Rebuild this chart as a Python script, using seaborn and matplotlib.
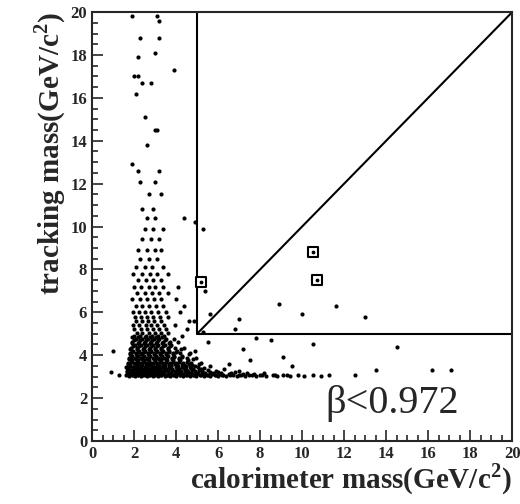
import numpy as np
import pandas as pd
import seaborn as sns
import matplotlib.pyplot as plt
from matplotlib.ticker import MultipleLocator

# scatter, row by row: tracking mass -> calorimeter masses
rows = {
    3.02: [1.75, 2.05, 2.32, 2.61, 2.88, 3.14, 3.47, 3.71, 4.02, 4.33, 4.68, 4.95, 5.31, 5.62, 6.0, 6.4, 6.9, 7.3, 7.8, 8.3, 8.8, 9.4, 10.1, 10.9],
    3.06: [1.9, 2.2, 2.5, 2.78, 3.02, 3.3, 3.6, 3.9, 4.2, 4.5, 4.85, 5.2, 5.5, 5.9, 6.25, 6.7, 7.1, 7.6, 8.1, 8.6, 9.1, 9.8, 10.5, 11.3],
    3.10: [1.62, 1.93, 2.18, 2.44, 2.73, 2.97, 3.26, 3.58, 3.85, 4.17, 4.49, 4.81, 5.12, 5.45, 5.83, 6.2, 6.55, 7.0, 7.45, 8.0, 8.7, 9.3],
    3.14: [1.7, 2.0, 2.3, 2.56, 2.84, 3.1, 3.4, 3.7, 4.0, 4.3, 4.62, 4.95, 5.3, 5.7, 6.1, 6.5, 7.2, 7.7],
    3.18: [1.81, 2.09, 2.37, 2.66, 2.91, 3.19, 3.44, 3.77, 4.08, 4.41, 4.72, 5.04, 5.39, 5.77, 6.15, 6.6, 7.4, 8.2],
    3.22: [1.66, 1.96, 2.24, 2.5, 2.76, 3.03, 3.32, 3.62, 3.93, 4.24, 4.55, 4.88, 5.22, 5.6, 6.0, 6.8],
    3.27: [1.68, 1.99, 2.26, 2.55, 2.83, 3.08, 3.36, 3.63, 3.94, 4.25, 4.57, 4.9, 5.24, 5.9, 7.0],
    3.31: [1.85, 2.13, 2.4, 2.68, 2.94, 3.21, 3.5, 3.8, 4.1, 4.42, 4.75, 5.1, 5.5],
    3.36: [1.77, 2.12, 2.41, 2.69, 2.95, 3.22, 3.51, 3.82, 4.13, 4.46, 4.79, 5.18, 6.3],
    3.40: [1.65, 1.98, 2.28, 2.57, 2.86, 3.12, 3.41, 3.72, 4.04, 4.36, 4.7, 5.35],
    3.45: [1.64, 1.95, 2.23, 2.52, 2.79, 3.05, 3.33, 3.66, 3.98, 4.3, 4.64, 5.05],
    3.50: [1.8, 2.1, 2.35, 2.62, 2.9, 3.18, 3.48, 3.78, 4.1, 4.45, 4.9, 5.6],
    3.55: [1.83, 2.14, 2.38, 2.64, 2.92, 3.17, 3.46, 3.74, 4.06, 4.39, 4.75],
    3.60: [1.72, 2.04, 2.3, 2.56, 2.82, 3.08, 3.37, 3.65, 3.96, 4.28, 4.6, 5.1],
    3.65: [1.7, 2.02, 2.29, 2.58, 2.86, 3.11, 3.39, 3.69, 4.0, 4.34, 4.7, 5.2],
    3.70: [1.84, 2.15, 2.42, 2.7, 2.98, 3.25, 3.53, 3.84, 4.16, 4.5],
    3.76: [1.88, 2.17, 2.46, 2.72, 3.01, 3.28, 3.55, 3.87, 4.21, 4.58],
    3.82: [1.78, 2.08, 2.36, 2.63, 2.93, 3.2, 3.5, 3.8, 4.14, 4.8],
    3.87: [1.74, 2.06, 2.33, 2.62, 2.9, 3.16, 3.43, 3.79, 4.12, 4.5, 4.95],
    3.92: [1.86, 2.14, 2.43, 2.71, 2.99, 3.27, 3.57, 3.9, 4.3],
    3.98: [1.91, 2.2, 2.49, 2.77, 3.04, 3.31, 3.6, 3.92, 4.27],
    4.04: [1.79, 2.07, 2.35, 2.64, 2.94, 3.22, 3.5, 3.85, 4.6],
    4.10: [1.8, 2.1, 2.39, 2.68, 2.96, 3.24, 3.52, 3.84, 4.19, 4.65],
    4.16: [1.9, 2.2, 2.48, 2.78, 3.06, 3.35, 3.66, 4.0],
    4.22: [1.95, 2.25, 2.54, 2.83, 3.09, 3.37, 3.68, 4.03],
    4.28: [1.82, 2.12, 2.42, 2.7, 2.99, 3.28, 3.6, 4.25],
    4.35: [1.86, 2.16, 2.45, 2.74, 3.02, 3.3, 3.62, 3.97, 4.4],
    4.42: [1.94, 2.24, 2.53, 2.82, 3.1, 3.4, 3.73],
    4.48: [2.03, 2.31, 2.6, 2.88, 3.15, 3.45, 3.78],
    4.55: [1.88, 2.18, 2.47, 2.76, 3.04, 3.33, 3.65],
    4.62: [1.92, 2.22, 2.51, 2.8, 3.07, 3.38, 3.71, 4.1],
    4.69: [2.0, 2.29, 2.58, 2.86, 3.14, 3.46],
    4.76: [2.08, 2.36, 2.65, 2.93, 3.2, 3.53, 3.9],
    4.83: [1.9, 2.2, 2.5, 2.78, 3.06, 3.35],
    4.90: [1.98, 2.27, 2.57, 2.85, 3.12, 3.44, 4.3],
    5.05: [2.12, 2.4, 2.7, 2.98, 3.26, 3.6],
    5.2: [2.02, 2.33, 2.61, 2.9, 3.19, 3.5, 4.5],
    5.4: [1.97, 2.25, 2.55, 2.82, 3.1, 3.42, 3.95],
    5.6: [2.1, 2.4, 2.68, 2.97, 3.3, 4.6, 4.85],
    5.8: [2.05, 2.32, 2.6, 2.9, 3.25, 3.6],
    6.0: [1.95, 2.22, 2.5, 2.8, 3.15, 3.5, 4.2],
    6.3: [2.1, 2.4, 2.7, 3.05, 3.4, 4.4],
    6.6: [1.9, 2.3, 2.6, 2.95, 3.3, 4.0],
    6.9: [2.15, 2.5, 2.85, 3.2, 3.6],
    7.2: [2.0, 2.35, 2.7, 3.0, 3.4, 4.1],
    7.5: [2.2, 2.55, 2.9, 3.3],
    7.8: [1.95, 2.4, 2.75, 3.1, 3.6],
    8.1: [2.1, 2.5, 2.85, 3.4],
    8.5: [2.3, 2.7, 3.1],
    8.9: [2.2, 2.6, 3.0, 3.3],
    9.4: [2.4, 2.8, 3.2],
    9.9: [2.5, 2.9, 3.4],
    10.4: [2.6, 3.0, 4.4],
    10.8: [2.4, 2.9],
    11.5: [2.7, 3.3],
    12.1: [2.3, 3.0],
    12.6: [2.2, 3.2],
    12.9: [1.9],
    13.8: [2.6],
    14.5: [3.0, 3.1],
    15.1: [2.5],
    16.2: [2.1],
    16.7: [2.4, 2.8],
    17.0: [2.0, 2.2],
    17.3: [3.9],
    17.9: [2.2],
    18.1: [3.0],
    18.8: [2.3, 3.2],
    19.6: [3.2],
    19.8: [1.9, 3.1],
}
# isolated points
extra_x = [1.0, 0.9, 1.3, 6.8, 7.8, 8.5, 10.5, 14.5, 17.1, 9.1, 7.2, 5.5, 5.3, 4.9, 13.5, 12.5, 16.2,
           5.6, 7.0, 8.9, 10.0, 11.6, 13.0, 4.9, 5.3, 5.4, 6.5, 7.5, 9.5]
extra_y = [4.2, 3.2, 3.1, 5.2, 4.8, 4.7, 4.5, 4.4, 3.3, 3.9, 4.3, 4.6, 5.1, 4.2, 3.3, 3.1, 3.3,
           5.9, 5.7, 6.4, 5.9, 6.3, 5.8, 10.2, 9.9, 7.0, 3.6, 3.8, 3.5]
# boxed candidates
cand_x = [5.2, 10.5, 10.7]
cand_y = [7.4, 8.8, 7.5]

xs, ys = [], []
for y, xl in rows.items():
    xs += xl
    ys += [y] * len(xl)
df = pd.DataFrame({'calo': xs + extra_x, 'track': ys + extra_y})

sns.set_style('ticks')
plt.rcParams['font.family'] = ['Liberation Serif', 'DejaVu Serif']
plt.rcParams['mathtext.fontset'] = 'custom'
plt.rcParams['mathtext.bf'] = 'Liberation Serif:bold'
plt.rcParams['mathtext.rm'] = 'Liberation Serif'

fig = plt.figure(figsize=(5.2, 5.04), dpi=100)
ax = fig.add_axes([0.177, 0.125, 0.808, 0.851])
sns.scatterplot(data=df, x='calo', y='track', s=9, color='black', linewidth=0, ax=ax)
ax.scatter(cand_x, cand_y, s=45, marker='s', facecolor='white', edgecolor='black', linewidth=1.5, zorder=3)
ax.scatter(cand_x, cand_y, s=3, color='black', zorder=4)

# signal region box and diagonal
ax.plot([5, 5, 20], [20, 5, 5], color='black', lw=1.5)
ax.plot([5, 20], [5, 20], color='black', lw=1.5)

ax.set_xlim(0, 20)
ax.set_ylim(0, 20)
ax.xaxis.set_major_locator(MultipleLocator(2))
ax.yaxis.set_major_locator(MultipleLocator(2))
ax.xaxis.set_minor_locator(MultipleLocator(0.5))
ax.yaxis.set_minor_locator(MultipleLocator(0.5))
ax.tick_params(which='both', direction='in', width=1.2)
ax.tick_params(which='major', length=8, labelsize=12)
ax.tick_params(which='minor', length=4)
for lab in ax.get_xticklabels() + ax.get_yticklabels():
    lab.set_fontweight('bold')
for sp in ax.spines.values():
    sp.set_linewidth(1.5)

ax.set_xlabel('calorimeter mass(GeV/c$^{\\mathbf{2}}$)', fontsize=21, fontweight='bold', loc='right', labelpad=0)
ax.set_ylabel('tracking mass(GeV/c$^{\\mathbf{2}}$)', fontsize=21, fontweight='bold', loc='top', labelpad=2)
ax.text(11.1, 1.3, 'β<0.972', fontsize=29)

fig.savefig('out.png', dpi=100)
